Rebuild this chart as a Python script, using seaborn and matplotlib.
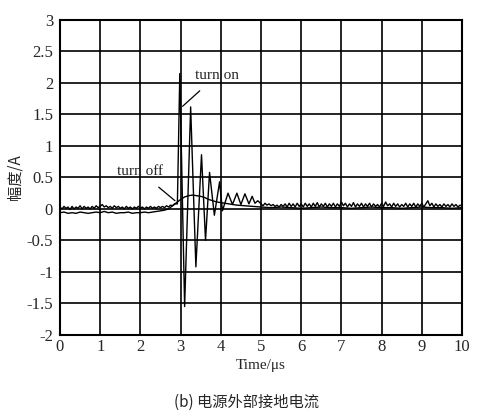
import numpy as np
import pandas as pd
import matplotlib
matplotlib.use("Agg")
import matplotlib.pyplot as plt
import seaborn as sns

# ---------------- data ----------------
# "turn on" current: ripple before switching (0.00 .. 2.85 us, every 0.05 us)
on_pre_vals = [0.03, 0.00, 0.04, 0.01, 0.03, -0.01, 0.04, 0.00, 0.03, 0.01,
               0.05, 0.00, 0.04, 0.01, 0.03, 0.00, 0.04, 0.01, 0.05, 0.02,
               0.04, 0.07, 0.03, 0.05, 0.02, 0.04, 0.01, 0.05, 0.02, 0.04,
               0.01, 0.03, 0.00, 0.04, 0.01, 0.03, 0.00, 0.03, 0.01, 0.04,
               0.01, 0.03, 0.00, 0.03, 0.01, 0.04, 0.01, 0.03, 0.01, 0.04,
               0.02, 0.04, 0.02, 0.05, 0.03, 0.06, 0.05, 0.08]
# "turn on" ringing after switching
on_ring_t = [2.92, 2.98, 3.10, 3.25, 3.38, 3.52, 3.62, 3.72, 3.84, 3.97,
             4.04, 4.18, 4.29, 4.40, 4.50, 4.60, 4.70, 4.78, 4.85, 4.92]
on_ring_v = [0.08, 2.15, -1.55, 1.62, -0.92, 0.86, -0.50, 0.58, -0.10, 0.43,
             -0.03, 0.25, 0.07, 0.25, 0.07, 0.24, 0.08, 0.20, 0.09, 0.13]
# "turn on" noise tail (5.00 .. 10.00 us, every 0.05 us)
on_post_vals = [0.08, 0.05, 0.09, 0.06, 0.08, 0.05, 0.07, 0.04, 0.06, 0.03,
                0.07, 0.04, 0.08, 0.03, 0.09, 0.04, 0.08, 0.03, 0.09, 0.04,
                0.08, 0.03, 0.09, 0.04, 0.08, 0.03, 0.09, 0.04, 0.10, 0.03,
                0.08, 0.04, 0.09, 0.03, 0.08, 0.04, 0.09, 0.03, 0.08, 0.04,
                0.11, 0.05, 0.09, 0.03, 0.08, 0.04, 0.10, 0.03, 0.08, 0.04,
                0.09, 0.03, 0.08, 0.04, 0.09, 0.03, 0.08, 0.04, 0.07, 0.03,
                0.09, 0.04, 0.11, 0.05, 0.08, 0.03, 0.09, 0.04, 0.08, 0.03,
                0.07, 0.04, 0.09, 0.03, 0.08, 0.04, 0.09, 0.03, 0.08, 0.04,
                0.09, 0.03, 0.08, 0.13, 0.05, 0.09, 0.03, 0.08, 0.04, 0.07,
                0.03, 0.08, 0.04, 0.07, 0.03, 0.08, 0.04, 0.07, 0.03, 0.06,
                0.04]

# "turn off" current
off_pre_vals = [-0.06, -0.05, -0.07, -0.06, -0.07, -0.05, -0.06, -0.07, -0.06, -0.05,
                -0.06, -0.04, -0.06, -0.05, -0.07, -0.06, -0.06, -0.05, -0.07, -0.06,
                -0.06, -0.05, -0.06, -0.05, -0.04, -0.03, -0.02]   # 0.0 .. 2.6 us
off_hump_t = [2.70, 2.80, 2.90, 3.00, 3.10, 3.20, 3.30, 3.40, 3.50, 3.60,
              3.70, 3.80, 3.90, 4.00, 4.20, 4.40, 4.60, 4.80]
off_hump_v = [0.00, 0.05, 0.10, 0.15, 0.19, 0.21, 0.22, 0.21, 0.20, 0.18,
              0.15, 0.13, 0.11, 0.10, 0.08, 0.06, 0.05, 0.04]
off_post_vals = [0.03, 0.02, 0.03, 0.02, 0.01, 0.02, 0.03, 0.02, 0.02, 0.01,
                 0.02, 0.03, 0.02, 0.02, 0.01, 0.02, 0.03, 0.02, 0.02, 0.01,
                 0.02]   # 5.0 .. 10.0 us, every 0.25 us

x_ticks = [0, 1, 2, 3, 4, 5, 6, 7, 8, 9, 10]
y_ticks = [-2, -1.5, -1, -0.5, 0, 0.5, 1, 1.5, 2, 2.5, 3]
y_tick_labels = ["-2", "-1.5", "-1", "-0.5", "0", "0.5", "1", "1.5", "2", "2.5", "3"]

# ---------------- build tables ----------------
on_t = list(np.round(np.arange(len(on_pre_vals)) * 0.05, 2)) + on_ring_t + \
       list(np.round(5.0 + np.arange(len(on_post_vals)) * 0.05, 2))
on_v = on_pre_vals + on_ring_v + on_post_vals
off_t = list(np.round(np.arange(len(off_pre_vals)) * 0.1, 2)) + off_hump_t + \
        list(np.round(5.0 + np.arange(len(off_post_vals)) * 0.25, 2))
off_v = off_pre_vals + off_hump_v + off_post_vals

df = pd.concat([
    pd.DataFrame({"t": off_t, "v": off_v, "s": "turn off"}),
    pd.DataFrame({"t": on_t, "v": on_v, "s": "turn on"}),
], ignore_index=True)

# ---------------- plot ----------------
sns.set_style("white")
serif = ["Liberation Serif", "DejaVu Serif"]
cjk = ["Noto Sans CJK SC", "DejaVu Sans"]
plt.rcParams["font.family"] = serif

fig = plt.figure(figsize=(5.0, 4.17), dpi=100)
ax = fig.add_axes([0.12, 0.197, 0.804, 0.755])

sns.lineplot(data=df, x="t", y="v", hue="s", palette={"turn off": "black", "turn on": "black"},
             estimator=None, sort=False, linewidth=1.0, legend=False, ax=ax)

ax.set_xlim(0, 10)
ax.set_ylim(-2, 3)
ax.set_xticks(x_ticks)
ax.set_xticklabels([str(t) for t in x_ticks], fontsize=12)
ax.set_yticks(y_ticks)
ax.set_yticklabels(y_tick_labels, fontsize=12)
ax.tick_params(axis="x", length=0, pad=3)
ax.tick_params(axis="y", length=0, pad=5)
ax.grid(True, color="black", linewidth=1.2)
for sp in ax.spines.values():
    sp.set_visible(True)
    sp.set_color("black")
    sp.set_linewidth(1.5)

ax.set_xlabel("Time/\u03bcs", fontsize=11, labelpad=3)
ax.set_ylabel("幅度/A", fontsize=11, family=cjk, labelpad=2)

ax.annotate("turn on", xy=(3.05, 1.63), xytext=(3.9, 2.12), fontsize=11,
            ha="center", va="center",
            arrowprops=dict(arrowstyle="-", color="black", lw=0.9, shrinkA=6, shrinkB=0))
ax.annotate("turn off", xy=(2.86, 0.13), xytext=(1.98, 0.6), fontsize=11,
            ha="center", va="center",
            arrowprops=dict(arrowstyle="-", color="black", lw=0.9, shrinkA=7, shrinkB=0))

fig.text(0.494, 0.034, "(b) 电源外部接地电流", fontsize=11, ha="center", va="center",
         family=cjk)

fig.savefig("out.png", dpi=100, facecolor="white")
